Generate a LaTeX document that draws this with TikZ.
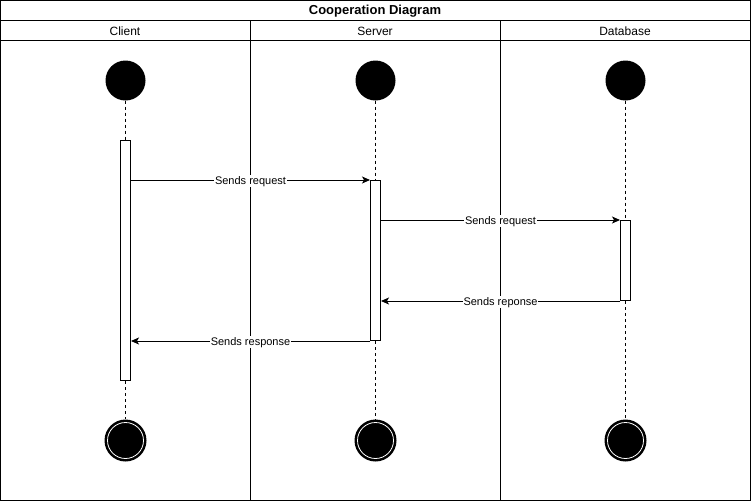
\documentclass[tikz,border=0pt]{standalone}
\usepackage{fontspec}
\setmainfont{Liberation Sans}
\usetikzlibrary{positioning}
\usetikzlibrary{arrows.meta}

\tikzset{
	lane/.style={black, line width=1pt},
	startdot/.style={circle, fill=black, minimum size=40pt, inner sep=0pt},
	enddot/.style={circle, fill=black, minimum size=42pt, inner sep=0pt},
	actbox/.style={rectangle, draw=black, fill=white, line width=1pt, minimum width=10pt, inner sep=0pt},
	lifeline/.style={black, line width=1pt, dash pattern=on 3pt off 3pt},
	msg/.style={black, line width=1pt, -{Stealth[length=8pt, width=7pt, inset=2pt]}},
	msglabel/.style={midway, fill=white, inner sep=0.6pt, yshift=-1.2pt, font=\fontsize{11}{13}\selectfont}
}

\begin{document}
\begin{tikzpicture}[x=1pt, y=-1pt]
	\useasboundingbox (0,0) rectangle (751,501);
	% frame and lanes
	\draw[lane] (0.5, 0.5) rectangle (750.5, 500.5);
	\draw[lane] (0.5, 20.5)--(750.5, 20.5);
	\draw[lane] (0.5, 40.5)--(750.5, 40.5);
	\draw[lane] (250.5, 20.5)--(250.5, 500.5);
	\draw[lane] (500.5, 20.5)--(500.5, 500.5);
	\node[font=\bfseries\fontsize{13}{15}\selectfont] (title) at (375, 11) {Cooperation Diagram};
	\node[font=\fontsize{12}{14}\selectfont] (clientHead) at (125, 31) {Client};
	\node[font=\fontsize{12}{14}\selectfont] (serverHead) at (375, 31) {Server};
	\node[font=\fontsize{12}{14}\selectfont] (dbHead) at (625, 31) {Database};

	% start and end points
	\node[startdot] (clientStart) at (125.5, 80.5) {};
	\node[startdot] (serverStart) at (375.5, 80.5) {};
	\node[startdot] (dbStart) at (625.5, 80.5) {};
	\node[enddot] (clientEnd) at (125.5, 440.5) {};
	\node[enddot] (serverEnd) at (375.5, 440.5) {};
	\node[enddot] (dbEnd) at (625.5, 440.5) {};
	\foreach \p in {clientEnd, serverEnd, dbEnd}
		\draw[white, line width=0.8pt] (\p) circle (18pt);

	% activations
	\node[actbox, minimum height=240pt] (clientAct) at (125.5, 260.5) {};
	\node[actbox, minimum height=160pt] (serverAct) at (375.5, 260.5) {};
	\node[actbox, minimum height=80pt] (dbAct) at (625.5, 260.5) {};

	% lifelines
	\foreach \s/\a/\e in {clientStart/clientAct/clientEnd, serverStart/serverAct/serverEnd, dbStart/dbAct/dbEnd} {
		\draw[lifeline] (\s.south)--(\a.north);
		\draw[lifeline] (\a.south)--(\e.north);
	}

	% messages
	\draw[msg] (clientAct.east |- serverAct.north)--(serverAct.north west) node[msglabel] {Sends request};
	\draw[msg] (serverAct.east |- dbAct.north)--(dbAct.north west) node[msglabel] {Sends request};
	\draw[msg] (dbAct.south west)--(serverAct.east |- dbAct.south) node[msglabel] {Sends reponse};
	\draw[msg] (serverAct.south west)--(clientAct.east |- serverAct.south) node[msglabel] {Sends response};
\end{tikzpicture}
\end{document}
